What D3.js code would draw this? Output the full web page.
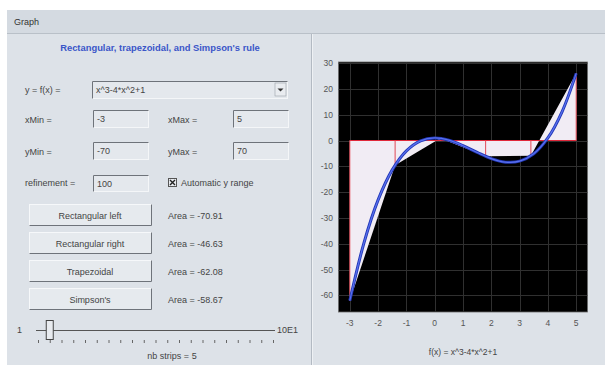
<!DOCTYPE html>
<html><head><meta charset="utf-8">
<script src="https://cdn.jsdelivr.net/npm/d3@7"></script>
<style>
html,body{margin:0;padding:0;background:#fff;}
svg{display:block;font-family:"Liberation Sans",Arial,sans-serif;}
</style></head>
<body>
<svg id="c" width="605" height="365"></svg>
<script>
// ---- data ----
const stripX = [-3, -1.4, 0.2, 1.8, 3.4, 5];
const stripY = [-62, -9.584, 0.848, -6.128, -5.936, 26];
const curveX = [-3, -2.5, -2, -1.5, -1, -0.5, 0, 0.5, 1, 1.5, 2, 2.5, 3, 3.5, 4, 4.5, 5];
const curveY = [-62, -39.625, -23, -11.375, -4, -0.125, 1, 0.125, -2, -4.625, -7, -8.375, -8, -5.125, 1, 11.125, 26];
const xTicks = [-3, -2, -1, 0, 1, 2, 3, 4, 5];
const yTicks = [30, 20, 10, 0, -10, -20, -30, -40, -50, -60];
const methods = ["Rectangular left", "Rectangular right", "Trapezoidal", "Simpson's"];
const areas = ["-70.91", "-46.63", "-62.08", "-58.67"];
const sliderTicks = d3.range(0, 101, 5);
const nbStrips = 5;

const svg = d3.select("#c");
const txt = "#444";
const fs = 9;

// ---- frame ----
svg.append("rect").attr("x",7).attr("y",10).attr("width",598).attr("height",355).attr("fill","#dde2e8");
svg.append("rect").attr("x",7).attr("y",10).attr("width",598).attr("height",23).attr("fill","#d4dae1");
svg.append("line").attr("x1",7).attr("x2",605).attr("y1",33.5).attr("y2",33.5).attr("stroke","#b9c0c8");
svg.append("text").attr("x",14).attr("y",25).attr("font-size",9).attr("fill","#333").text("Graph");
svg.append("line").attr("x1",311.5).attr("x2",311.5).attr("y1",34).attr("y2",365).attr("stroke","#b3bac3");
svg.append("line").attr("x1",312.5).attr("x2",312.5).attr("y1",34).attr("y2",365).attr("stroke","#eef1f4");

// ---- left panel ----
const L = svg.append("g");
L.append("text").attr("x",160).attr("y",51).attr("text-anchor","middle")
  .attr("font-size",9.4).attr("font-weight","bold").attr("fill","#3a56c8")
  .text("Rectangular, trapezoidal, and Simpson's rule");

function field(x, y, w, h, value){
  const g = L.append("g");
  g.append("rect").attr("x",x+0.5).attr("y",y+0.5).attr("width",w).attr("height",h).attr("fill","#e4e8ed").attr("stroke","#f4f6f8");
  g.append("path").attr("d",`M${x+0.5},${y+h+0.5}V${y+0.5}H${x+w+0.5}`).attr("fill","none").attr("stroke","#6e737a");
  g.append("text").attr("x",x+4).attr("y",y+h/2+3.5).attr("font-size",fs).attr("fill",txt).text(value);
}
function label(x, y, s){
  L.append("text").attr("x",x).attr("y",y).attr("font-size",fs).attr("fill",txt).text(s);
}
label(25, 93, "y = f(x) =");
field(92, 81, 195, 17, "x^3-4*x^2+1");
L.append("rect").attr("x",275).attr("y",83).attr("width",11).attr("height",13).attr("fill","#e9ecf0").attr("stroke","#9aa0a8").attr("stroke-width",0.6);
L.append("path").attr("d","M277.5,88.5h6l-3,3z").attr("fill","#333");

label(25, 123, "xMin =");  field(93, 110, 55, 17, "-3");
label(168, 123, "xMax ="); field(233, 110, 55, 17, "5");
label(25, 155, "yMin =");  field(93, 142, 55, 17, "-70");
label(168, 155, "yMax ="); field(233, 142, 55, 17, "70");
label(25, 186, "refinement ="); field(93, 175, 55, 16, "100");
L.append("rect").attr("x",168.5).attr("y",178.5).attr("width",8).attr("height",8).attr("fill","#e8ebef").attr("stroke","#555");
L.append("path").attr("d","M170,180L175,185M175,180L170,185").attr("stroke","#222").attr("stroke-width",1.4);
label(181, 186, "Automatic y range");

const btnY = d3.scalePoint().domain(methods).range([204, 288]);
methods.forEach((m, i) => {
  const y0 = btnY(m);
  L.append("rect").attr("x",29.5).attr("y",y0+0.5).attr("width",122).attr("height",21).attr("fill","#e6eaee").attr("stroke","#f6f8fa");
  L.append("path").attr("d",`M29.5,${y0+21.5}H151.5V${y0+0.5}`).attr("fill","none").attr("stroke","#6e737a");
  L.append("text").attr("x",90).attr("y",y0+14.5).attr("text-anchor","middle").attr("font-size",fs).attr("fill",txt).text(m);
  L.append("text").attr("x",168).attr("y",y0+14.5).attr("font-size",fs).attr("fill",txt).text("Area = " + areas[i]);
});

// slider
const sx = d3.scaleLinear().domain([0, 100]).range([38, 273]);
L.append("text").attr("x",17).attr("y",333).attr("font-size",fs).attr("fill",txt).text("1");
L.append("line").attr("x1",sx(0)-2).attr("x2",sx(100)+2).attr("y1",330.5).attr("y2",330.5).attr("stroke","#555");
L.append("text").attr("x",277).attr("y",333).attr("font-size",fs).attr("fill",txt).text("10E1");
L.selectAll(".stk").data(sliderTicks).join("line")
  .attr("x1",d=>sx(d)+0.5).attr("x2",d=>sx(d)+0.5).attr("y1",340).attr("y2",343).attr("stroke","#666");
L.append("rect").attr("x",sx(nbStrips)-3.5).attr("y",320.5).attr("width",7).attr("height",19).attr("fill","#e8ebef").attr("stroke","#444");
L.append("text").attr("x",172).attr("y",359).attr("text-anchor","middle").attr("font-size",fs).attr("fill",txt).text("nb strips = " + nbStrips);

// ---- right chart ----
const ext = d3.extent(stripY.concat(curveY));
const padY = (ext[1]-ext[0])*0.05;
const xExt = d3.extent(stripX), padX = (xExt[1]-xExt[0])*0.05;
const x = d3.scaleLinear().domain([xExt[0]-padX, xExt[1]+padX]).range([338.5, 587.5]);
const y = d3.scaleLinear().domain([ext[0]-padY, ext[1]+padY]).range([312, 62]);
const R = svg.append("g");
R.append("rect").attr("x",338.5).attr("y",62).attr("width",249).attr("height",250).attr("fill","#000").attr("stroke","#6a6a6a").attr("stroke-width",0.8);
R.append("clipPath").attr("id","pc").append("rect").attr("x",338.5).attr("y",62).attr("width",249).attr("height",250);
const P = R.append("g").attr("clip-path","url(#pc)");
P.selectAll(".gx").data(xTicks).join("line").attr("x1",d=>Math.round(x(d))+0.5).attr("x2",d=>Math.round(x(d))+0.5).attr("y1",62).attr("y2",312).attr("stroke","#303030");
P.selectAll(".gy").data(yTicks).join("line").attr("y1",d=>Math.round(y(d))+0.5).attr("y2",d=>Math.round(y(d))+0.5).attr("x1",338.5).attr("x2",587.5).attr("stroke","#303030");

const strips = d3.range(stripX.length-1);
P.selectAll(".tz").data(strips).join("path")
  .attr("d", i => `M${x(stripX[i])},${y(0)}L${x(stripX[i])},${y(stripY[i])}L${x(stripX[i+1])},${y(stripY[i+1])}L${x(stripX[i+1])},${y(0)}Z`)
  .attr("fill","#f1ecf4");
P.append("line").attr("x1",x(stripX[0])).attr("x2",x(stripX[stripX.length-1])).attr("y1",y(0)).attr("y2",y(0)).attr("stroke","#e0283a").attr("stroke-width",1.1);
P.selectAll(".vr").data(stripX).join("line")
  .attr("x1",d=>x(d)).attr("x2",d=>x(d)).attr("y1",y(0)).attr("y2",(d,i)=>y(stripY[i])).attr("stroke","#e8505e").attr("stroke-width",1);

const line = d3.line().x((d,i)=>x(curveX[i])).y(d=>y(d)).curve(d3.curveCatmullRom);
P.append("path").attr("d",line(curveY)).attr("fill","none").attr("stroke","#2438b8").attr("stroke-width",3);
P.append("path").attr("d",line(curveY)).attr("fill","none").attr("stroke","#5870ee").attr("stroke-width",1.2);

R.selectAll(".yl").data(yTicks).join("text").attr("x",333).attr("y",d=>y(d)+3).attr("text-anchor","end")
  .attr("font-size",8.5).attr("fill","#555").text(d=>d);
R.selectAll(".xl").data(xTicks).join("text").attr("x",d=>x(d)).attr("y",326).attr("text-anchor","middle")
  .attr("font-size",8.5).attr("fill","#555").text(d=>d);
R.append("text").attr("x",463).attr("y",355).attr("text-anchor","middle").attr("font-size",8.5).attr("fill","#444").text("f(x) = x^3-4*x^2+1");
</script>
</body></html>
